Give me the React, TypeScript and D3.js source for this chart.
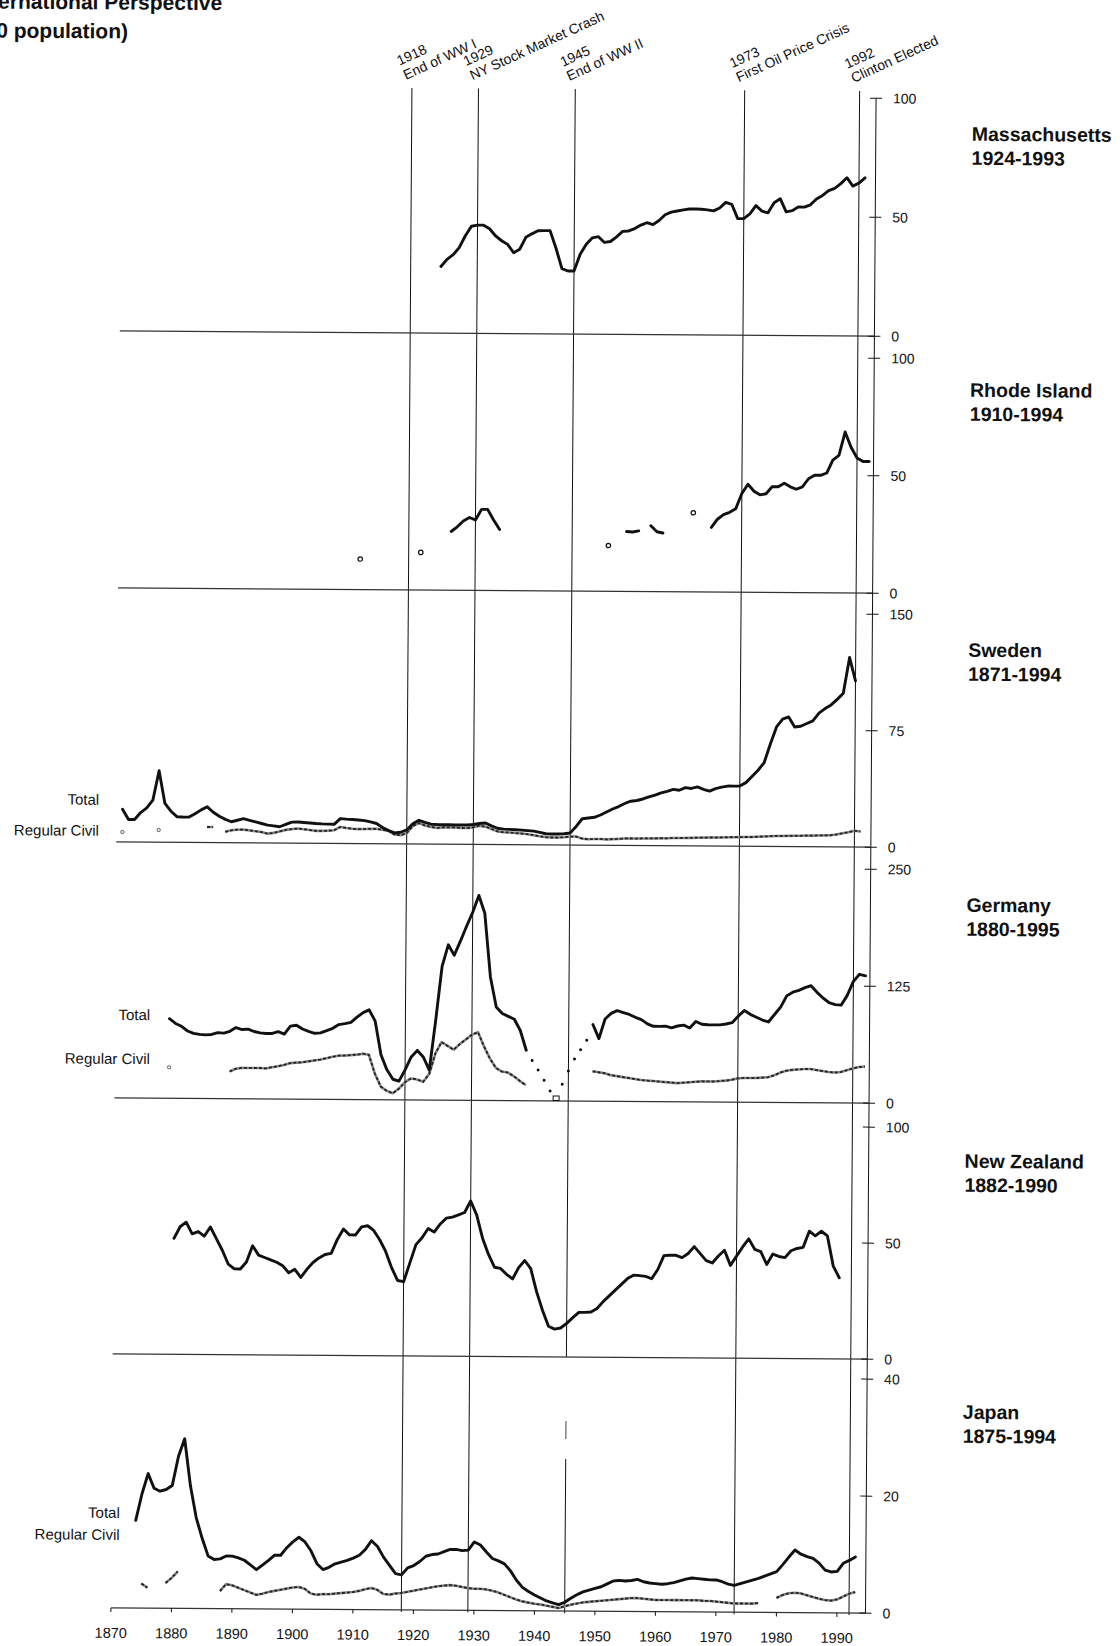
import React from "react";
import * as d3 from "d3";

const FONT = '"Liberation Sans", Arial, Helvetica, sans-serif';

// ---------------- data ----------------
const chartTitle = ["International Perspective", "(per 100,000 population)"];

const eventYears = [1918, 1929, 1945, 1973, 1992];
const eventNames = ["End of WW I", "NY Stock Market Crash", "End of WW II", "First Oil Price Crisis", "Clinton Elected"];

const xTickYears = [1870, 1880, 1890, 1900, 1910, 1920, 1930, 1940, 1950, 1960, 1970, 1980, 1990];

const panelNames = ["Massachusetts", "Rhode Island", "Sweden", "Germany", "New Zealand", "Japan"];
const panelSpans = ["1924-1993", "1910-1994", "1871-1994", "1880-1995", "1882-1990", "1875-1994"];
const panelMax = [100, 100, 150, 250, 100, 40];
const panelTicks = [[0, 50, 100], [0, 50, 100], [0, 75, 150], [0, 125, 250], [0, 50, 100], [0, 20, 40]];
const seriesLabels = ["Total", "Regular Civil"];

const massStart = 1923;
const massTotal = [
  28, 31, 33, 36, 41, 45, 45.5,
  45.5, 44, 41, 39, 37.5, 34, 35.5, 40.5, 42, 43.3,
  43.4, 43.4, 36, 27.5, 26.5, 26.5, 33.6, 37.8, 40.5, 41,
  38.6, 39, 41, 43.3, 43.5, 44.5, 46, 47, 46.2, 48,
  50.4, 51.5, 52, 52.5, 52.9, 52.9, 52.8, 52.6, 52.2, 53.4,
  55.8, 55, 49, 49, 51, 54.5, 52.2, 51.5, 55.8, 57.5,
  52, 52.5, 54.1, 54, 55, 57.5, 59, 61, 62, 64,
  66.5, 63, 64.3, 66.5,
];

const riStart = 1910;
const riTotal = [
  13, null, null, null, null, null, null, null, null, null,
  16, null, null, null, null, 25, 27, 29.5, 31, 30,
  34.5, 34.5, 30, 26, null, null, null, null, null, null,
  null, null, null, null, null, null, null, null, null, null,
  null, 19.5, null, null, 25.5, 25.3, 25.8, null, 28, 25.5,
  25, null, null, null, null, 33.7, null, null, 27.5, 31,
  33, 34, 35.5, 42, 46, 43, 41.5, 42, 45, 45,
  46.5, 45, 44, 45, 48.5, 50, 50, 51, 56.5, 58.5,
  68.5, 62, 57.5, 56, 56,
];

const swedenStart = 1871;
const swedenTotal = [
  21, 14.5, 14.5, 19, 22, 27, 46, 25, 20,
  16.5, 16.3, 16.3, 18.5, 21, 23, 19.5, 17, 15, 13.5,
  14.5, 15.5, 14.5, 13.5, 12.5, 11.5, 11, 10.5, 12, 13.5,
  13.6, 13.3, 13, 12.7, 12.5, 12.4, 12.3, 16, 15.7, 15.5,
  15.2, 14.8, 14, 13, 10.5, 8.5, 7, 7.5, 9, 13,
  15.3, 14, 12.8, 12.6, 12.5, 12.5, 12.4, 12.4, 12.5, 12.8,
  13.5, 13.8, 12, 10.5, 10, 9.8, 9.6, 9.4, 9.1, 8.8,
  8, 7.2, 7, 7.1, 7.3, 7.8, 12, 17, 17.5, 18,
  19.5, 21.5, 23.4, 25, 27, 28.5, 29, 30, 31.4, 32.5,
  34, 35, 36.3, 35.8, 37.5, 37, 38, 36.5, 35.4, 37,
  38, 38.7, 38.7, 38.8, 41, 45, 49, 54, 66, 77,
  82, 83.5, 77, 77.5, 79.3, 81, 86, 89, 91.4, 95,
  99, 122, 107,
];
const swedenCivil = [
  6.4, null, null, null, null, null, 7.8, null, null,
  null, null, null, null, null, 10, 10, null, 7, 8,
  8.4, 8.5, 8, 7.5, 7, 6, 6.5, 7.5, 8.5, 9,
  9.4, 9, 8.5, 8, 8, 8.2, 8.5, 10.6, 10, 9.5,
  9.3, 9.4, 9.5, 9.6, 9, 8.3, 6, 5.6, 7, 11.5,
  13.5, 12, 11, 10.5, 10.8, 10.8, 10.8, 10.5, 10.5, 11,
  12, 11.5, 10, 8.5, 8, 7.8, 7.5, 7.2, 6.8, 6.2,
  5.5, 5, 4.8, 4.8, 5, 5.5, 5.5, 4.2, 3.8, 4,
  4, 3.8, 4, 4.2, 4.5, 4.5, 4.5, 4.6, 4.6, 4.7,
  4.8, 4.8, 5, 5, 5.1, 5.2, 5.3, 5.4, 5.5, 5.5,
  5.6, 5.7, 5.8, 5.9, 6, 6, 6.2, 6.4, 6.6, 6.8,
  6.8, 6.9, 7, 7, 7.2, 7.2, 7.3, 7.4, 7.5, 8,
  8.8, 9.5, 10.5, 10,
];

const germanyStart = 1879;
const germanyTotal = [
  85,
  80, 77, 72, 69.5, 68.5, 68, 68.5, 70.5, 70, 72,
  76, 74, 74.5, 72, 70.5, 70, 70, 72, 69.5, 78,
  79, 75, 72.5, 70.5, 71, 73.5, 76, 80, 81, 82.5,
  88, 93, 96, 84, 48, 32, 22, 20, 32, 46,
  53, 46, 32, 85, 143, 166, 155, 170, 186, 201,
  219, 200, 132, 100, 93, 90, 87, 75, 54, null,
  null, null, null, null, null, null, null, null, null, 82,
  67, 88, 94, 97, 95, 93, 90, 87.5, 83, 80.5,
  80.5, 80.7, 79, 81, 82, 79, 86, 83, 82.5, 82.5,
  82.5, 83.5, 85, 92, 98, 94, 91, 88, 86, 94,
  102, 114, 118, 120, 123, 125, 118, 112, 107, 105,
  104.5, 115, 130, 137.6, 136,
];
const germanyCivil = [
  33,
  null, null, null, null, null, null, null, null, null, 29,
  32, 33, 33, 33, 33, 32.6, 34, 35, 36.5, 38.5,
  39, 39.5, 40.5, 41.5, 42.5, 44, 45.5, 46.8, 47, 47.5,
  48, 49, 48, 28, 14, 9.5, 7, 12, 19, 23,
  22, 19.5, 28, 50, 62, 58, 54, 60, 65, 70,
  73, 58, 45, 35, 31, 30, 26, 21, 16.6, null,
  null, null, null, null, null, null, null, null, null, 32,
  31, 30, 28, 27, 26, 25, 24, 23, 22.5, 22,
  21.5, 21, 20.5, 20, 20.5, 21, 21.5, 22, 22, 22,
  22.5, 23, 24, 25.5, 26, 26, 26, 26.5, 27, 29,
  32, 34, 35, 35.5, 36, 36, 35, 34, 33, 32.5,
  33, 35, 37, 38.5, 39,
];
const germanyWarStart = 1939;
const germanyWarTotal = [43, 33, 22, 10.5, 1, 18, 32, 45, 55, 65];
const germanyWarLowYear = 1943;

const nzStart = 1880;
const nzTotal = [
  50, 55, 57, 52, 53, 51, 55, 50, 45, 39,
  37, 37, 40, 47, 43, 42, 41, 40, 38.5, 35.5,
  37, 33.5, 37, 40, 42, 43.5, 44, 50, 54.5, 52,
  52, 55.5, 56, 54, 50, 45, 38, 32.5, 32, 40,
  48, 51, 55, 53.5, 57, 59.5, 60, 61, 62, 67,
  61, 51, 44, 38.5, 38, 35.5, 33.5, 38.4, 41.5, 38,
  28, 20, 13.2, 12, 12.5, 14.5, 17, 19.3, 19.3, 19.5,
  21, 24, 26.5, 29, 31.5, 34, 35.5, 35.3, 35, 34,
  38, 44, 44.2, 44.2, 43.2, 45, 48, 45, 42, 41,
  44, 46.5, 40, 44, 48, 51.5, 47, 46, 40.5, 45,
  44, 43.5, 46.5, 47.5, 48, 55, 53, 55, 53, 40,
  35,
];

const japanStart = 1874;
const japanTotal = [
  15, 19.5, 23, 20.5, 20, 20.3,
  21, 26, 29, 21, 15.5, 12, 9, 8.4, 8.5, 9,
  9, 8.7, 8.3, 7.5, 6.7, 7.5, 8.3, 9.2, 9.2, 10.5,
  11.5, 12.3, 11.5, 10, 7.8, 6.8, 7.2, 7.8, 8.1, 8.4,
  8.8, 9.3, 10.3, 11.8, 10.8, 9, 7.6, 6.2, 6, 7.2,
  7.6, 8.3, 9.2, 9.5, 9.6, 10, 10.4, 10.4, 10.2, 10.3,
  11.7, 11.2, 10, 8.9, 8.5, 8, 6.8, 5.2, 4, 3.3,
  2.7, 2.2, 1.7, 1.4, 1.1, 1.5, 2.2, 2.8, 3.3, 3.6,
  3.9, 4.2, 4.7, 5.2, 5.3, 5.2, 5.3, 5.5, 5.1, 4.9,
  4.8, 4.7, 4.8, 5, 5.3, 5.6, 5.8, 5.7, 5.6, 5.5,
  5.5, 5.2, 4.8, 4.6, 4.9, 5.2, 5.5, 5.8, 6.2, 6.6,
  7, 8.2, 9.5, 10.7, 10, 9.6, 9.3, 8.5, 7.3, 7,
  7.1, 8.5, 9, 9.6,
];
const japanCivilStart = 1875;
const japanCivil = [
  4.2, 3.5, null, null, 4.3,
  5.2, 6.3, null, null, null, null, null, null, 3, 4.2,
  4, 3.6, 3.2, 2.8, 2.4, 2.6, 2.9, 3.1, 3.3, 3.5,
  3.7, 3.8, 3.5, 2.7, 2.5, 2.6, 2.6, 2.7, 2.8, 2.9,
  3, 3.2, 3.5, 3.7, 3.4, 2.7, 2.6, 2.8, 2.9, 3.1,
  3.3, 3.5, 3.7, 3.9, 4.1, 4.2, 4.3, 4.2, 4, 3.8,
  3.7, 3.7, 3.6, 3.4, 3.1, 2.7, 2.3, 1.9, 1.6, 1.4,
  1.2, 1.1, 0.9, 0.7, 0.5, 0.8, 1.1, 1.3, 1.5, 1.6,
  1.7, 1.8, 1.9, 2, 2.1, 2.2, 2.3, 2.3, 2.2, 2.1,
  2, 2, 2, 2, 2, 2, 2, 2, 1.9, 1.9,
  1.8, 1.7, 1.6, 1.5, 1.5, 1.5, 1.5, 1.6, null, null,
  2.5, 3, 3.3, 3.4, 3.3, 3, 2.7, 2.4, 2.2, 2.1,
  2.3, 2.8, 3.3, 3.6,
];

// ---------------- layout ----------------
const W = 1120;
const H = 1646;
const TILT = 0.4; // the scanned page is slightly rotated
const yearDomain = [1870, 1995];
const xRange = [116.4, 872.65];
const axisX = 871;
const panelBase = [334, 591, 845, 1101, 1357, 1611];
const panelHeight = [238, 235, 233, 234, 232, 234];
const titleOffset = [42, 38, 42, 42, 40, 39];
const eventTop = 89;
const labelPos: (null | { x: number; yT: number; yC: number })[] = [
  null, null,
  { x: 99, yT: 808, yC: 839 },
  { x: 151.5, yT: 1023, yC: 1067 },
  null,
  { x: 124.6, yT: 1521, yC: 1543 },
];

type Pt = { year: number; value: number | null };
const toPts = (start: number, vals: (number | null)[]): Pt[] =>
  vals.map((v, i) => ({ year: start + i, value: v }));
const isolated = (pts: Pt[]) =>
  pts.filter(
    (p, i) =>
      p.value != null &&
      (i === 0 || pts[i - 1].value == null) &&
      (i === pts.length - 1 || pts[i + 1].value == null)
  );

const panelSeries: { total: Pt[]; civil?: Pt[] }[] = [
  { total: toPts(massStart, massTotal) },
  { total: toPts(riStart, riTotal) },
  { total: toPts(swedenStart, swedenTotal), civil: toPts(swedenStart, swedenCivil) },
  { total: toPts(germanyStart, germanyTotal), civil: toPts(germanyStart, germanyCivil) },
  { total: toPts(nzStart, nzTotal) },
  { total: toPts(japanStart, japanTotal), civil: toPts(japanCivilStart, japanCivil) },
];
const germanyWar = toPts(germanyWarStart, germanyWarTotal);

export default function App() {
  const x = d3.scaleLinear().domain(yearDomain).range(xRange);
  const panels = panelNames.map((name, i) => {
    const base = panelBase[i];
    const top = base - panelHeight[i];
    const y = d3.scaleLinear().domain([0, panelMax[i]]).range([base, top]);
    return { name, base, top, y };
  });
  const mkLine = (y: d3.ScaleLinear<number, number>) =>
    d3
      .line<Pt>()
      .defined((d) => d.value != null)
      .x((d) => x(d.year))
      .y((d) => y(d.value as number));

  const bottom = panelBase[panelBase.length - 1];
  const japan = panels[5];
  const gapStart = panels[4].base;
  const gapEnd = japan.y(26);

  return (
    <svg
      width={W}
      height={H}
      viewBox={`0 0 ${W} ${H}`}
      style={{ position: "absolute", left: 0, top: 0, background: "#fff", display: "block" }}
      fontFamily={FONT}
    >
      <rect x={0} y={0} width={W} height={H} fill="#fff" />
      <g transform={`rotate(${TILT} ${W / 2} 823)`}>
        {/* title (cropped in the scan) */}
        <text x={216.5} y={12.5} textAnchor="end" fontSize={21} fontWeight="bold" fill="#111">
          {chartTitle[0]}
        </text>
        <text x={122.5} y={41.5} textAnchor="end" fontSize={21} fontWeight="bold" fill="#111">
          {chartTitle[1]}
        </text>

        {/* event lines and labels */}
        {eventYears.map((yr, i) => {
          const ex = x(yr);
          const is1945 = yr === 1945;
          return (
            <g key={yr}>
              {is1945 ? (
                <>
                  <line x1={ex} x2={ex} y1={eventTop} y2={gapStart} stroke="#111" strokeWidth={1} />
                  <line x1={ex} x2={ex} y1={gapStart} y2={gapEnd} stroke="#444" strokeWidth={1} strokeDasharray="0 64 18 400" />
                  <line x1={ex} x2={ex} y1={gapEnd} y2={bottom + 2} stroke="#111" strokeWidth={1} />
                </>
              ) : (
                <line x1={ex} x2={ex} y1={eventTop} y2={bottom + 2} stroke="#111" strokeWidth={1} />
              )}
              <text transform={`translate(${ex - 6},${eventTop - 8}) rotate(-25)`} fontSize={14} fill="#111">
                <tspan x={0} y={-15.5}>{yr}</tspan>
                <tspan x={0} y={0}>{eventNames[i]}</tspan>
              </text>
            </g>
          );
        })}

        {/* right axis */}
        <line x1={axisX} x2={axisX} y1={panels[0].top} y2={bottom} stroke="#111" strokeWidth={1} />

        {panels.map((p, i) => {
          const s = panelSeries[i];
          const line = mkLine(p.y);
          const lp = labelPos[i];
          return (
            <g key={p.name}>
              {/* baseline */}
              <line x1={x(1870)} x2={axisX} y1={p.base} y2={p.base} stroke="#333" strokeWidth={1.3} />
              {/* ticks */}
              {panelTicks[i].map((t) => (
                <g key={t}>
                  <line x1={axisX - 6} x2={axisX + 6} y1={p.y(t)} y2={p.y(t)} stroke="#111" strokeWidth={1} />
                  <text x={axisX + 17} y={p.y(t)} dy="0.36em" fontSize={14} fill="#111">
                    {t}
                  </text>
                </g>
              ))}
              {/* panel title */}
              <text x={967} y={p.top + titleOffset[i]} fontSize={19.5} fontWeight="bold" fill="#111">
                {p.name}
              </text>
              <text x={967} y={p.top + titleOffset[i] + 24} fontSize={19.5} fontWeight="bold" fill="#111">
                {panelSpans[i]}
              </text>

              {/* regular civil */}
              {s.civil && (
                <g>
                  <path d={line(s.civil) || ""} fill="none" stroke="#8a8a8a" strokeWidth={2.6} strokeLinejoin="round" />
                  <path d={line(s.civil) || ""} fill="none" stroke="#222" strokeWidth={1.8} strokeDasharray="3 2" />
                  {isolated(s.civil).map((d) => (
                    <circle key={d.year} cx={x(d.year)} cy={p.y(d.value as number)} r={1.6} fill="none" stroke="#666" strokeWidth={1} />
                  ))}
                </g>
              )}

              {/* total */}
              <path d={line(s.total) || ""} fill="none" stroke="#111" strokeWidth={2.9} strokeLinejoin="round" strokeLinecap="round" />
              {isolated(s.total).map((d) => (
                <circle key={d.year} cx={x(d.year)} cy={p.y(d.value as number)} r={2.2} fill="#fff" stroke="#111" strokeWidth={1.2} />
              ))}

              {/* Germany war years */}
              {i === 3 &&
                germanyWar.map((d) =>
                  d.year === germanyWarLowYear ? (
                    <rect key={d.year} x={x(d.year) - 3} y={p.y(d.value as number) - 4} width={6} height={4.5} fill="#fff" stroke="#111" strokeWidth={1} />
                  ) : (
                    <circle key={d.year} cx={x(d.year)} cy={p.y(d.value as number)} r={1.5} fill="#111" />
                  )
                )}

              {lp && (
                <g fontSize={15} fill="#111" textAnchor="end">
                  <text x={lp.x} y={lp.yT}>{seriesLabels[0]}</text>
                  <text x={lp.x} y={lp.yC}>{seriesLabels[1]}</text>
                </g>
              )}
            </g>
          );
        })}

        {/* bottom year axis */}
        {xTickYears.map((yr) => (
          <g key={yr}>
            <line x1={x(yr)} x2={x(yr)} y1={bottom} y2={bottom + 4} stroke="#111" strokeWidth={1} />
            <text x={x(yr)} y={bottom + 30} textAnchor="middle" fontSize={14.5} fill="#111">
              {yr}
            </text>
          </g>
        ))}
      </g>
    </svg>
  );
}
